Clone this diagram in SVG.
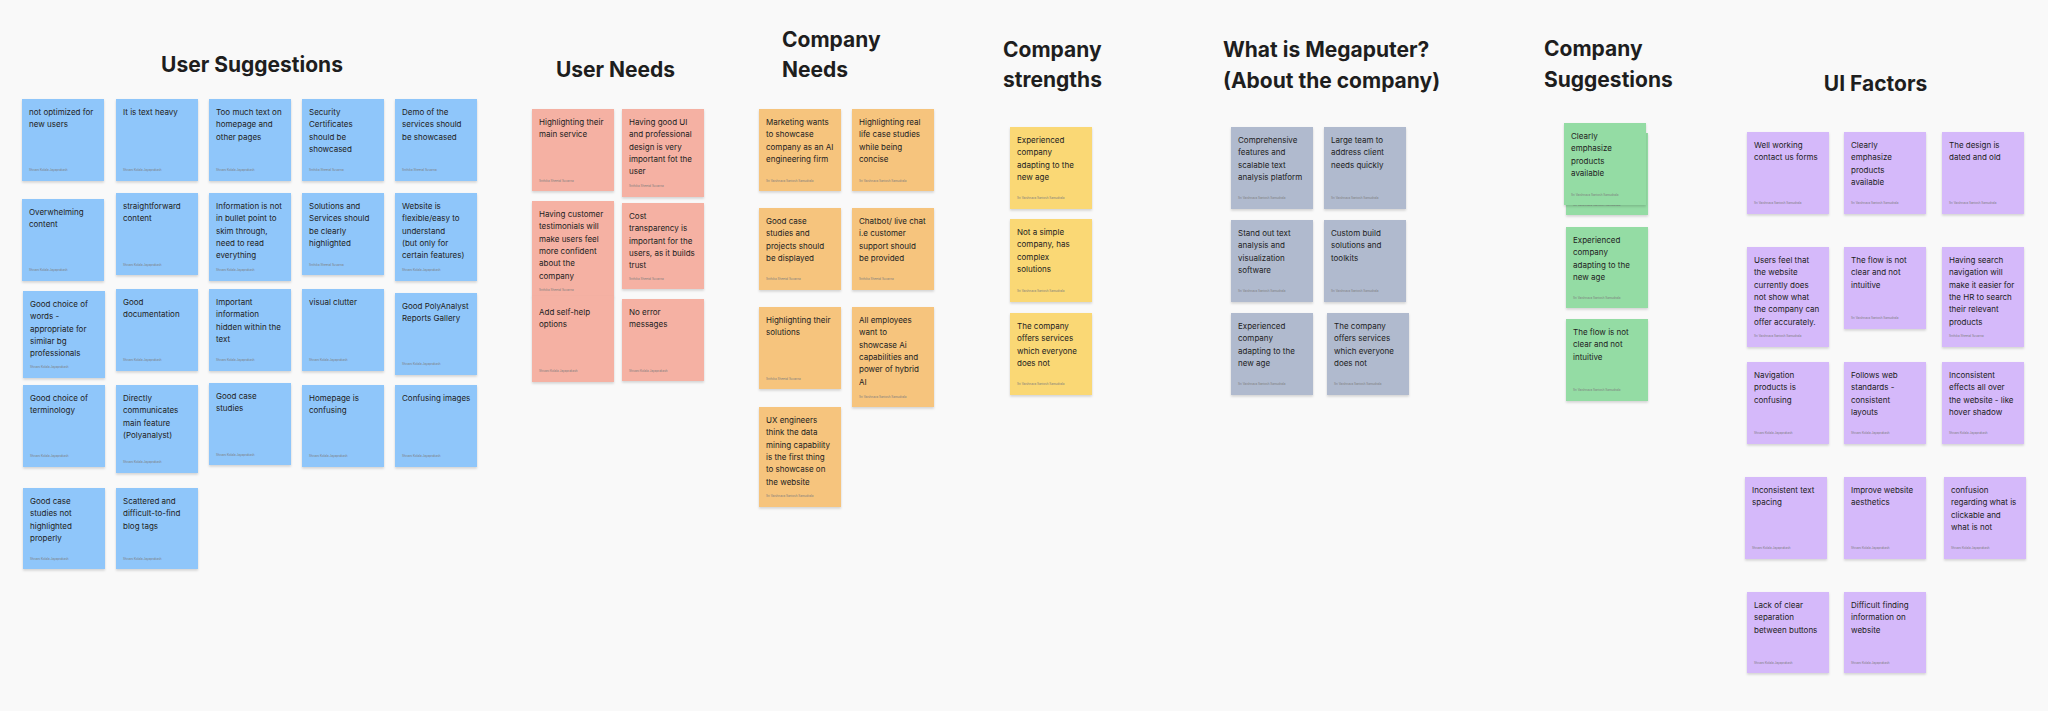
<svg xmlns="http://www.w3.org/2000/svg" width="2048" height="711" viewBox="0 0 2048 711">
<defs>
<filter id="sh" x="-10%" y="-10%" width="120%" height="130%"><feDropShadow dx="0" dy="1.5" stdDeviation="1.2" flood-color="#000" flood-opacity="0.16"/></filter>
<style>
.n{filter:url(#sh)}
.blue{fill:#8fc6fa}.pink{fill:#f5b1a3}.orange{fill:#f6c47d}.yellow{fill:#fad875}.slate{fill:#b0bace}.green{fill:#94dca4}.purple{fill:#d5b9fa}
.t{font-family:Inter,"Noto Sans",sans-serif;font-size:8px;fill:#222}
.a{font-family:Inter,"Noto Sans",sans-serif;font-size:3px;fill:#7d7d7d}
.h{font-family:Inter,"Noto Sans",sans-serif;font-weight:700;font-size:21px;fill:#1e1e1e}
</style>
</defs>
<rect width="2048" height="711" fill="#f9f9f9"/>

<g id="titles">
<text class="h" x="252" y="72" text-anchor="middle">User Suggestions</text>
<text class="h" x="615.5" y="77" text-anchor="middle">User Needs</text>
<text class="h" x="782" y="47">Company</text><text class="h" x="782" y="77">Needs</text>
<text class="h" x="1003" y="57">Company</text><text class="h" x="1003" y="87">strengths</text>
<text class="h" x="1223" y="57">What is Megaputer?</text><text class="h" x="1223" y="88">(About the company)</text>
<text class="h" x="1544" y="56">Company</text><text class="h" x="1544" y="87">Suggestions</text>
<text class="h" x="1875.5" y="91" text-anchor="middle">UI Factors</text>
</g>

<g id="connectors"></g>

<!-- User Suggestions -->
<g id="us1"><rect class="n blue" x="22" y="99" width="82" height="82"/><text class="t" y="115"><tspan x="29">not optimized for</tspan><tspan x="29" dy="12.3">new users</tspan></text><text class="a" x="29" y="171">Shivani Kolala Jayaprakash</text></g>
<g id="us2"><rect class="n blue" x="116" y="99" width="82" height="82"/><text class="t" y="115"><tspan x="123">It is text heavy</tspan></text><text class="a" x="123" y="171">Shivani Kolala Jayaprakash</text></g>
<g id="us3"><rect class="n blue" x="209" y="99" width="82" height="82"/><text class="t" y="115"><tspan x="216">Too much text on</tspan><tspan x="216" dy="12.3">homepage and</tspan><tspan x="216" dy="12.3">other pages</tspan></text><text class="a" x="216" y="171">Shivani Kolala Jayaprakash</text></g>
<g id="us4"><rect class="n blue" x="302" y="99" width="82" height="82"/><text class="t" y="115"><tspan x="309">Security</tspan><tspan x="309" dy="12.3">Certificates</tspan><tspan x="309" dy="12.3">should be</tspan><tspan x="309" dy="12.3">showcased</tspan></text><text class="a" x="309" y="171">Srithika Sheetal Suvarna</text></g>
<g id="us5"><rect class="n blue" x="395" y="99" width="82" height="82"/><text class="t" y="115"><tspan x="402">Demo of the</tspan><tspan x="402" dy="12.3">services should</tspan><tspan x="402" dy="12.3">be showcased</tspan></text><text class="a" x="402" y="171">Srithika Sheetal Suvarna</text></g>

<g id="us6"><rect class="n blue" x="22" y="199" width="82" height="82"/><text class="t" y="215"><tspan x="29">Overwhelming</tspan><tspan x="29" dy="12.3">content</tspan></text><text class="a" x="29" y="271">Shivani Kolala Jayaprakash</text></g>
<g id="us7"><rect class="n blue" x="116" y="193" width="82" height="82"/><text class="t" y="209"><tspan x="123">straightforward</tspan><tspan x="123" dy="12.3">content</tspan></text><text class="a" x="123" y="266">Shivani Kolala Jayaprakash</text></g>
<g id="us8"><rect class="n blue" x="209" y="193" width="82" height="88"/><text class="t" y="209"><tspan x="216">Information is not</tspan><tspan x="216" dy="12.3">in bullet point to</tspan><tspan x="216" dy="12.3">skim through,</tspan><tspan x="216" dy="12.3">need to read</tspan><tspan x="216" dy="12.3">everything</tspan></text><text class="a" x="216" y="271">Shivani Kolala Jayaprakash</text></g>
<g id="us9"><rect class="n blue" x="302" y="193" width="82" height="82"/><text class="t" y="209"><tspan x="309">Solutions and</tspan><tspan x="309" dy="12.3">Services should</tspan><tspan x="309" dy="12.3">be clearly</tspan><tspan x="309" dy="12.3">highlighted</tspan></text><text class="a" x="309" y="266">Srithika Sheetal Suvarna</text></g>
<g id="us10"><rect class="n blue" x="395" y="193" width="82" height="88"/><text class="t" y="209"><tspan x="402">Website is</tspan><tspan x="402" dy="12.3">flexible/easy to</tspan><tspan x="402" dy="12.3">understand</tspan><tspan x="402" dy="12.3">(but only for</tspan><tspan x="402" dy="12.3">certain features)</tspan></text><text class="a" x="402" y="271">Shivani Kolala Jayaprakash</text></g>

<g id="us11"><rect class="n blue" x="23" y="291" width="82" height="87"/><text class="t" y="307"><tspan x="30">Good choice of</tspan><tspan x="30" dy="12.3">words -</tspan><tspan x="30" dy="12.3">appropriate for</tspan><tspan x="30" dy="12.3">similar bg</tspan><tspan x="30" dy="12.3">professionals</tspan></text><text class="a" x="30" y="368">Shivani Kolala Jayaprakash</text></g>
<g id="us12"><rect class="n blue" x="116" y="289" width="82" height="82"/><text class="t" y="305"><tspan x="123">Good</tspan><tspan x="123" dy="12.3">documentation</tspan></text><text class="a" x="123" y="361">Shivani Kolala Jayaprakash</text></g>
<g id="us13"><rect class="n blue" x="209" y="289" width="82" height="82"/><text class="t" y="305"><tspan x="216">Important</tspan><tspan x="216" dy="12.3">information</tspan><tspan x="216" dy="12.3">hidden within the</tspan><tspan x="216" dy="12.3">text</tspan></text><text class="a" x="216" y="361">Shivani Kolala Jayaprakash</text></g>
<g id="us14"><rect class="n blue" x="302" y="289" width="82" height="82"/><text class="t" y="305"><tspan x="309">visual clutter</tspan></text><text class="a" x="309" y="361">Shivani Kolala Jayaprakash</text></g>
<g id="us15"><rect class="n blue" x="395" y="293" width="82" height="82"/><text class="t" y="309"><tspan x="402">Good PolyAnalyst</tspan><tspan x="402" dy="12.3">Reports Gallery</tspan></text><text class="a" x="402" y="365">Shivani Kolala Jayaprakash</text></g>

<g id="us16"><rect class="n blue" x="23" y="385" width="82" height="82"/><text class="t" y="401"><tspan x="30">Good choice of</tspan><tspan x="30" dy="12.3">terminology</tspan></text><text class="a" x="30" y="457">Shivani Kolala Jayaprakash</text></g>
<g id="us17"><rect class="n blue" x="116" y="385" width="82" height="88"/><text class="t" y="401"><tspan x="123">Directly</tspan><tspan x="123" dy="12.3">communicates</tspan><tspan x="123" dy="12.3">main feature</tspan><tspan x="123" dy="12.3">(Polyanalyst)</tspan></text><text class="a" x="123" y="463">Shivani Kolala Jayaprakash</text></g>
<g id="us18"><rect class="n blue" x="209" y="383" width="82" height="82"/><text class="t" y="399"><tspan x="216">Good case</tspan><tspan x="216" dy="12.3">studies</tspan></text><text class="a" x="216" y="456">Shivani Kolala Jayaprakash</text></g>
<g id="us19"><rect class="n blue" x="302" y="385" width="82" height="82"/><text class="t" y="401"><tspan x="309">Homepage is</tspan><tspan x="309" dy="12.3">confusing</tspan></text><text class="a" x="309" y="457">Shivani Kolala Jayaprakash</text></g>
<g id="us20"><rect class="n blue" x="395" y="385" width="82" height="82"/><text class="t" y="401"><tspan x="402">Confusing images</tspan></text><text class="a" x="402" y="457">Shivani Kolala Jayaprakash</text></g>

<g id="us21"><rect class="n blue" x="23" y="488" width="82" height="81"/><text class="t" y="504"><tspan x="30">Good case</tspan><tspan x="30" dy="12.3">studies not</tspan><tspan x="30" dy="12.3">highlighted</tspan><tspan x="30" dy="12.3">properly</tspan></text><text class="a" x="30" y="560">Shivani Kolala Jayaprakash</text></g>
<g id="us22"><rect class="n blue" x="116" y="488" width="82" height="81"/><text class="t" y="504"><tspan x="123">Scattered and</tspan><tspan x="123" dy="12.3">difficult-to-find</tspan><tspan x="123" dy="12.3">blog tags</tspan></text><text class="a" x="123" y="560">Shivani Kolala Jayaprakash</text></g>

<!-- User Needs -->
<g id="un1"><rect class="n pink" x="532" y="109" width="82" height="82"/><text class="t" y="125"><tspan x="539">Highlighting their</tspan><tspan x="539" dy="12.3">main service</tspan></text><text class="a" x="539" y="182">Srithika Sheetal Suvarna</text></g>
<g id="un2"><rect class="n pink" x="622" y="109" width="82" height="88"/><text class="t" y="125"><tspan x="629">Having good UI</tspan><tspan x="629" dy="12.3">and professional</tspan><tspan x="629" dy="12.3">design is very</tspan><tspan x="629" dy="12.3">important fot the</tspan><tspan x="629" dy="12.3">user</tspan></text><text class="a" x="629" y="187">Srithika Sheetal Suvarna</text></g>
<g id="un3"><rect class="n pink" x="532" y="201" width="82" height="96"/><text class="t" y="217"><tspan x="539">Having customer</tspan><tspan x="539" dy="12.3">testimonials will</tspan><tspan x="539" dy="12.3">make users feel</tspan><tspan x="539" dy="12.3">more confident</tspan><tspan x="539" dy="12.3">about the</tspan><tspan x="539" dy="12.3">company</tspan></text><text class="a" x="539" y="291">Srithika Sheetal Suvarna</text></g>
<g id="un4"><rect class="n pink" x="532" y="296" width="82" height="86"/><text class="t" y="315"><tspan x="539">Add self-help</tspan><tspan x="539" dy="12.3">options</tspan></text><text class="a" x="539" y="372">Shivani Kolala Jayaprakash</text></g>
<g id="un5"><rect class="n pink" x="622" y="203" width="82" height="86"/><text class="t" y="219"><tspan x="629">Cost</tspan><tspan x="629" dy="12.3">transparency is</tspan><tspan x="629" dy="12.3">important for the</tspan><tspan x="629" dy="12.3">users, as it builds</tspan><tspan x="629" dy="12.3">trust</tspan></text><text class="a" x="629" y="280">Srithika Sheetal Suvarna</text></g>
<g id="un6"><rect class="n pink" x="622" y="299" width="82" height="82"/><text class="t" y="315"><tspan x="629">No error</tspan><tspan x="629" dy="12.3">messages</tspan></text><text class="a" x="629" y="372">Shivani Kolala Jayaprakash</text></g>

<!-- Company Needs -->
<g id="cn1"><rect class="n orange" x="759" y="109" width="82" height="82"/><text class="t" y="125"><tspan x="766">Marketing wants</tspan><tspan x="766" dy="12.3">to showcase</tspan><tspan x="766" dy="12.3">company as an AI</tspan><tspan x="766" dy="12.3">engineering firm</tspan></text><text class="a" x="766" y="182">Sri Vaishnava Santosh Samudrala</text></g>
<g id="cn2"><rect class="n orange" x="852" y="109" width="82" height="82"/><text class="t" y="125"><tspan x="859">Highlighting real</tspan><tspan x="859" dy="12.3">life case studies</tspan><tspan x="859" dy="12.3">while being</tspan><tspan x="859" dy="12.3">concise</tspan></text><text class="a" x="859" y="182">Sri Vaishnava Santosh Samudrala</text></g>
<g id="cn3"><rect class="n orange" x="759" y="208" width="82" height="82"/><text class="t" y="224"><tspan x="766">Good case</tspan><tspan x="766" dy="12.3">studies and</tspan><tspan x="766" dy="12.3">projects should</tspan><tspan x="766" dy="12.3">be displayed</tspan></text><text class="a" x="766" y="280">Srithika Sheetal Suvarna</text></g>
<g id="cn4"><rect class="n orange" x="852" y="208" width="82" height="82"/><text class="t" y="224"><tspan x="859">Chatbot/ live chat</tspan><tspan x="859" dy="12.3">i.e customer</tspan><tspan x="859" dy="12.3">support should</tspan><tspan x="859" dy="12.3">be provided</tspan></text><text class="a" x="859" y="280">Srithika Sheetal Suvarna</text></g>
<g id="cn5"><rect class="n orange" x="759" y="307" width="82" height="82"/><text class="t" y="323"><tspan x="766">Highlighting their</tspan><tspan x="766" dy="12.3">solutions</tspan></text><text class="a" x="766" y="380">Srithika Sheetal Suvarna</text></g>
<g id="cn6"><rect class="n orange" x="852" y="307" width="82" height="100"/><text class="t" y="323"><tspan x="859">All employees</tspan><tspan x="859" dy="12.3">want to</tspan><tspan x="859" dy="12.3">showcase Ai</tspan><tspan x="859" dy="12.3">capabilities and</tspan><tspan x="859" dy="12.3">power of hybrid</tspan><tspan x="859" dy="12.3">AI</tspan></text><text class="a" x="859" y="398">Sri Vaishnava Santosh Samudrala</text></g>
<g id="cn7"><rect class="n orange" x="759" y="407" width="82" height="100"/><text class="t" y="423"><tspan x="766">UX engineers</tspan><tspan x="766" dy="12.3">think the data</tspan><tspan x="766" dy="12.3">mining capability</tspan><tspan x="766" dy="12.3">is the first thing</tspan><tspan x="766" dy="12.3">to showcase on</tspan><tspan x="766" dy="12.3">the website</tspan></text><text class="a" x="766" y="497">Sri Vaishnava Santosh Samudrala</text></g>

<!-- Company strengths -->
<g id="cs1"><rect class="n yellow" x="1010" y="127" width="82" height="82"/><text class="t" y="143"><tspan x="1017">Experienced</tspan><tspan x="1017" dy="12.3">company</tspan><tspan x="1017" dy="12.3">adapting to the</tspan><tspan x="1017" dy="12.3">new age</tspan></text><text class="a" x="1017" y="199">Sri Vaishnava Santosh Samudrala</text></g>
<g id="cs2"><rect class="n yellow" x="1010" y="219" width="82" height="83"/><text class="t" y="235"><tspan x="1017">Not a simple</tspan><tspan x="1017" dy="12.3">company, has</tspan><tspan x="1017" dy="12.3">complex</tspan><tspan x="1017" dy="12.3">solutions</tspan></text><text class="a" x="1017" y="292">Sri Vaishnava Santosh Samudrala</text></g>
<g id="cs3"><rect class="n yellow" x="1010" y="313" width="82" height="82"/><text class="t" y="329"><tspan x="1017">The company</tspan><tspan x="1017" dy="12.3">offers services</tspan><tspan x="1017" dy="12.3">which everyone</tspan><tspan x="1017" dy="12.3">does not</tspan></text><text class="a" x="1017" y="385">Sri Vaishnava Santosh Samudrala</text></g>

<!-- Megaputer -->
<g id="mg1"><rect class="n slate" x="1231" y="127" width="82" height="82"/><text class="t" y="143"><tspan x="1238">Comprehensive</tspan><tspan x="1238" dy="12.3">features and</tspan><tspan x="1238" dy="12.3">scalable text</tspan><tspan x="1238" dy="12.3">analysis platform</tspan></text><text class="a" x="1238" y="199">Sri Vaishnava Santosh Samudrala</text></g>
<g id="mg2"><rect class="n slate" x="1324" y="127" width="82" height="82"/><text class="t" y="143"><tspan x="1331">Large team to</tspan><tspan x="1331" dy="12.3">address client</tspan><tspan x="1331" dy="12.3">needs quickly</tspan></text><text class="a" x="1331" y="199">Sri Vaishnava Santosh Samudrala</text></g>
<g id="mg3"><rect class="n slate" x="1231" y="220" width="82" height="82"/><text class="t" y="236"><tspan x="1238">Stand out text</tspan><tspan x="1238" dy="12.3">analysis and</tspan><tspan x="1238" dy="12.3">visualization</tspan><tspan x="1238" dy="12.3">software</tspan></text><text class="a" x="1238" y="292">Sri Vaishnava Santosh Samudrala</text></g>
<g id="mg4"><rect class="n slate" x="1324" y="220" width="82" height="82"/><text class="t" y="236"><tspan x="1331">Custom build</tspan><tspan x="1331" dy="12.3">solutions and</tspan><tspan x="1331" dy="12.3">toolkits</tspan></text><text class="a" x="1331" y="292">Sri Vaishnava Santosh Samudrala</text></g>
<g id="mg5"><rect class="n slate" x="1231" y="313" width="82" height="82"/><text class="t" y="329"><tspan x="1238">Experienced</tspan><tspan x="1238" dy="12.3">company</tspan><tspan x="1238" dy="12.3">adapting to the</tspan><tspan x="1238" dy="12.3">new age</tspan></text><text class="a" x="1238" y="385">Sri Vaishnava Santosh Samudrala</text></g>
<g id="mg6"><rect class="n slate" x="1327" y="313" width="82" height="82"/><text class="t" y="329"><tspan x="1334">The company</tspan><tspan x="1334" dy="12.3">offers services</tspan><tspan x="1334" dy="12.3">which everyone</tspan><tspan x="1334" dy="12.3">does not</tspan></text><text class="a" x="1334" y="385">Sri Vaishnava Santosh Samudrala</text></g>

<!-- Company Suggestions -->
<g id="csg0"><rect class="n green" x="1566" y="133" width="82" height="82"/><text class="a" x="1573" y="206">Sri Vaishnava Santosh Samudrala</text></g>
<g id="csg1"><rect class="n green" x="1564" y="123" width="82" height="82"/><text class="t" y="139"><tspan x="1571">Clearly</tspan><tspan x="1571" dy="12.3">emphasize</tspan><tspan x="1571" dy="12.3">products</tspan><tspan x="1571" dy="12.3">available</tspan></text><text class="a" x="1571" y="196">Sri Vaishnava Santosh Samudrala</text></g>
<g id="csg2"><rect class="n green" x="1566" y="227" width="82" height="81"/><text class="t" y="243"><tspan x="1573">Experienced</tspan><tspan x="1573" dy="12.3">company</tspan><tspan x="1573" dy="12.3">adapting to the</tspan><tspan x="1573" dy="12.3">new age</tspan></text><text class="a" x="1573" y="299">Sri Vaishnava Santosh Samudrala</text></g>
<g id="csg3"><rect class="n green" x="1566" y="319" width="82" height="82"/><text class="t" y="335"><tspan x="1573">The flow is not</tspan><tspan x="1573" dy="12.3">clear and not</tspan><tspan x="1573" dy="12.3">intuitive</tspan></text><text class="a" x="1573" y="391">Sri Vaishnava Santosh Samudrala</text></g>

<!-- UI Factors -->
<g id="ui1"><rect class="n purple" x="1747" y="132" width="82" height="82"/><text class="t" y="148"><tspan x="1754">Well working</tspan><tspan x="1754" dy="12.3">contact us forms</tspan></text><text class="a" x="1754" y="204">Sri Vaishnava Santosh Samudrala</text></g>
<g id="ui2"><rect class="n purple" x="1844" y="132" width="82" height="82"/><text class="t" y="148"><tspan x="1851">Clearly</tspan><tspan x="1851" dy="12.3">emphasize</tspan><tspan x="1851" dy="12.3">products</tspan><tspan x="1851" dy="12.3">available</tspan></text><text class="a" x="1851" y="204">Sri Vaishnava Santosh Samudrala</text></g>
<g id="ui3"><rect class="n purple" x="1942" y="132" width="82" height="82"/><text class="t" y="148"><tspan x="1949">The design is</tspan><tspan x="1949" dy="12.3">dated and old</tspan></text><text class="a" x="1949" y="204">Sri Vaishnava Santosh Samudrala</text></g>
<g id="ui4"><rect class="n purple" x="1747" y="247" width="82" height="100"/><text class="t" y="263"><tspan x="1754">Users feel that</tspan><tspan x="1754" dy="12.3">the website</tspan><tspan x="1754" dy="12.3">currently does</tspan><tspan x="1754" dy="12.3">not show what</tspan><tspan x="1754" dy="12.3">the company can</tspan><tspan x="1754" dy="12.3">offer accurately.</tspan></text><text class="a" x="1754" y="337">Sri Vaishnava Santosh Samudrala</text></g>
<g id="ui5"><rect class="n purple" x="1844" y="247" width="82" height="82"/><text class="t" y="263"><tspan x="1851">The flow is not</tspan><tspan x="1851" dy="12.3">clear and not</tspan><tspan x="1851" dy="12.3">intuitive</tspan></text><text class="a" x="1851" y="319">Sri Vaishnava Santosh Samudrala</text></g>
<g id="ui6"><rect class="n purple" x="1942" y="247" width="82" height="100"/><text class="t" y="263"><tspan x="1949">Having search</tspan><tspan x="1949" dy="12.3">navigation will</tspan><tspan x="1949" dy="12.3">make it easier for</tspan><tspan x="1949" dy="12.3">the HR to search</tspan><tspan x="1949" dy="12.3">their relevant</tspan><tspan x="1949" dy="12.3">products</tspan></text><text class="a" x="1949" y="337">Srithika Sheetal Suvarna</text></g>
<g id="ui7"><rect class="n purple" x="1747" y="362" width="82" height="82"/><text class="t" y="378"><tspan x="1754">Navigation</tspan><tspan x="1754" dy="12.3">products is</tspan><tspan x="1754" dy="12.3">confusing</tspan></text><text class="a" x="1754" y="434">Shivani Kolala Jayaprakash</text></g>
<g id="ui8"><rect class="n purple" x="1844" y="362" width="82" height="82"/><text class="t" y="378"><tspan x="1851">Follows web</tspan><tspan x="1851" dy="12.3">standards -</tspan><tspan x="1851" dy="12.3">consistent</tspan><tspan x="1851" dy="12.3">layouts</tspan></text><text class="a" x="1851" y="434">Shivani Kolala Jayaprakash</text></g>
<g id="ui9"><rect class="n purple" x="1942" y="362" width="82" height="82"/><text class="t" y="378"><tspan x="1949">Inconsistent</tspan><tspan x="1949" dy="12.3">effects all over</tspan><tspan x="1949" dy="12.3">the website - like</tspan><tspan x="1949" dy="12.3">hover shadow</tspan></text><text class="a" x="1949" y="434">Shivani Kolala Jayaprakash</text></g>
<g id="ui10"><rect class="n purple" x="1745" y="477" width="82" height="82"/><text class="t" y="493"><tspan x="1752">Inconsistent text</tspan><tspan x="1752" dy="12.3">spacing</tspan></text><text class="a" x="1752" y="549">Shivani Kolala Jayaprakash</text></g>
<g id="ui11"><rect class="n purple" x="1844" y="477" width="82" height="82"/><text class="t" y="493"><tspan x="1851">Improve website</tspan><tspan x="1851" dy="12.3">aesthetics</tspan></text><text class="a" x="1851" y="549">Shivani Kolala Jayaprakash</text></g>
<g id="ui12"><rect class="n purple" x="1944" y="477" width="82" height="82"/><text class="t" y="493"><tspan x="1951">confusion</tspan><tspan x="1951" dy="12.3">regarding what is</tspan><tspan x="1951" dy="12.3">clickable and</tspan><tspan x="1951" dy="12.3">what is not</tspan></text><text class="a" x="1951" y="549">Shivani Kolala Jayaprakash</text></g>
<g id="ui13"><rect class="n purple" x="1747" y="592" width="82" height="81"/><text class="t" y="608"><tspan x="1754">Lack of clear</tspan><tspan x="1754" dy="12.3">separation</tspan><tspan x="1754" dy="12.3">between buttons</tspan></text><text class="a" x="1754" y="664">Shivani Kolala Jayaprakash</text></g>
<g id="ui14"><rect class="n purple" x="1844" y="592" width="82" height="81"/><text class="t" y="608"><tspan x="1851">Difficult finding</tspan><tspan x="1851" dy="12.3">information on</tspan><tspan x="1851" dy="12.3">website</tspan></text><text class="a" x="1851" y="664">Shivani Kolala Jayaprakash</text></g>
</svg>
